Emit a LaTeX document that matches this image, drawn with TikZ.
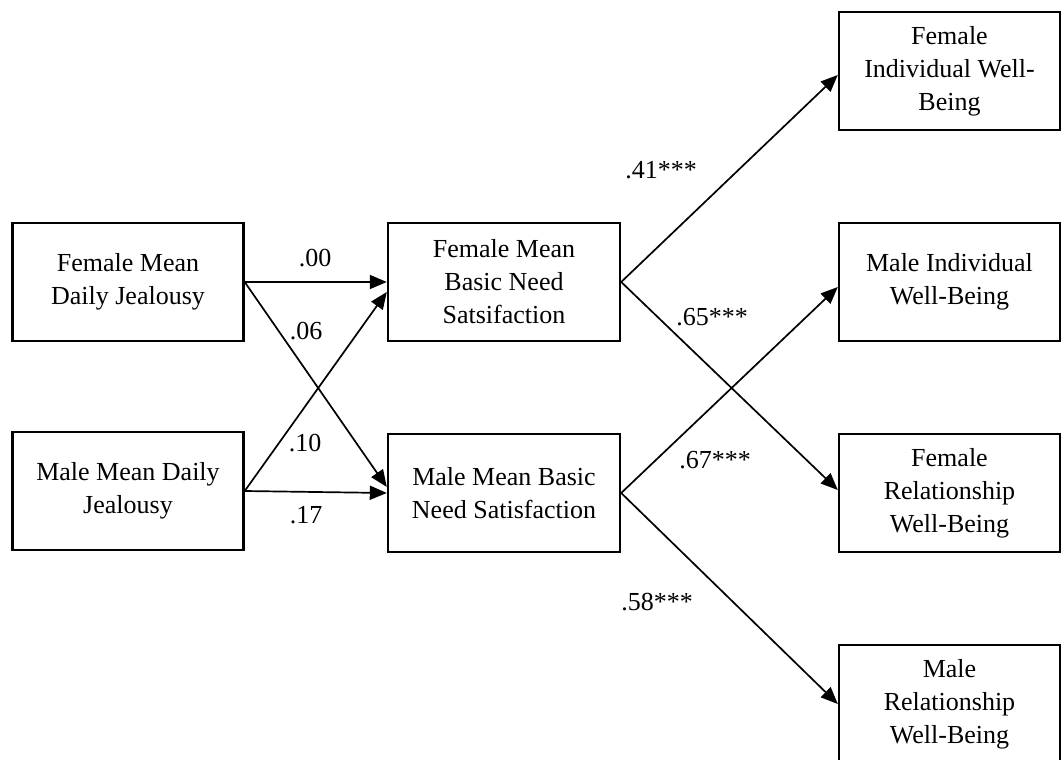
\documentclass[tikz,border=0pt]{standalone}
\usepackage{fontspec}
\setmainfont{Liberation Serif}
\usetikzlibrary{arrows.meta}

\tikzset{
  varbox/.style={draw, line width=1.2pt, minimum height=59pt, align=center,
    inner sep=0pt, font=\fontsize{13}{16.5}\selectfont},
  pathline/.style={line width=0.85pt, -{Triangle[length=8.5pt,width=7pt]}},
  coef/.style={inner sep=0pt, font=\fontsize{13}{16}\selectfont},
}

\begin{document}
\begin{tikzpicture}[x=0.5pt, y=-0.5pt]
  \useasboundingbox (0,0) rectangle (1061,760);
  \clip (0,0) rectangle (1061,760);

  % predictors
  \node[varbox, minimum width=115.5pt] (fj) at (128,282) {Female Mean\\Daily Jealousy};
  \node[varbox, minimum width=115.5pt] (mj) at (128,491) {Male Mean Daily\\Jealousy};

  % mediators
  \node[varbox, minimum width=116pt] (fb) at (504,282) {Female Mean\\Basic Need\\Satsifaction};
  \node[varbox, minimum width=116pt] (mb) at (504,493) {Male Mean Basic\\Need Satisfaction};

  % outcomes
  \node[varbox, minimum width=110.5pt] (fiw) at (949.5,71) {Female\\Individual Well-\\Being};
  \node[varbox, minimum width=110.5pt] (miw) at (949.5,282) {Male Individual\\Well-Being};
  \node[varbox, minimum width=110.5pt] (frw) at (949.5,493) {Female\\Relationship\\Well-Being};
  \node[varbox, minimum width=110.5pt] (mrw) at (949.5,704) {Male\\Relationship\\Well-Being};

  % paths
  \draw[pathline] (fj.east) -- (fb.west);
  \draw[pathline] (fj.east) -- ([yshift=3pt]mb.west);
  \draw[pathline] (mj.east) -- ([yshift=-5pt]fb.west);
  \draw[pathline] (mj.east) -- (mb.west);
  \draw[pathline] (fb.east) -- ([yshift=-2pt]fiw.west);
  \draw[pathline] (fb.east) -- ([yshift=1.5pt]frw.west);
  \draw[pathline] (mb.east) -- ([yshift=-2.5pt]miw.west);
  \draw[pathline] (mb.east) -- (mrw.west);

  % coefficients
  \node[coef] (c1) at (315,258) {.00};
  \node[coef] (c2) at (306,331) {.06};
  \node[coef] (c3) at (305,443) {.10};
  \node[coef] (c4) at (306,515) {.17};
  \node[coef] (c5) at (661,170) {.41***};
  \node[coef] (c6) at (712,317) {.65***};
  \node[coef] (c7) at (715,460) {.67***};
  \node[coef] (c8) at (657,602) {.58***};
\end{tikzpicture}
\end{document}
